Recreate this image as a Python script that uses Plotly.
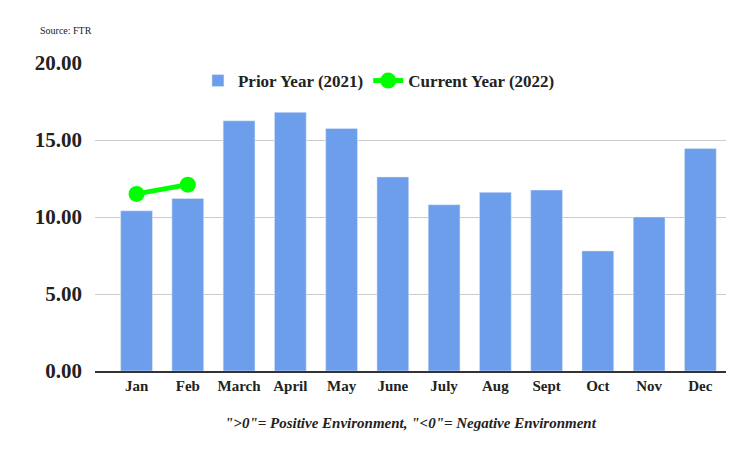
import plotly.graph_objects as go

months = ['Jan', 'Feb', 'March', 'April', 'May', 'June', 'July', 'Aug', 'Sept', 'Oct', 'Nov', 'Dec']
prior_year = [10.4, 11.2, 16.25, 16.8, 15.75, 12.6, 10.8, 11.6, 11.75, 7.8, 10.0, 14.45]
current_months = ['Jan', 'Feb']
current_year = [11.5, 12.1]
y_ticks = [0, 5, 10, 15, 20]

FONT = 'Liberation Serif, Times New Roman, serif'

fig = go.Figure()
fig.add_trace(go.Bar(
    name='<b>Prior Year (2021)</b>', x=months, y=prior_year,
    marker_color='#6d9eeb', width=0.62,
))
fig.add_trace(go.Scatter(
    name='<b>Current Year (2022)</b>', x=current_months, y=current_year,
    mode='lines+markers', line=dict(color='#00ff00', width=5),
    marker=dict(color='#00ff00', size=16),
))

fig.update_layout(
    width=750, height=463,
    margin=dict(l=87, r=32, t=55, b=100),
    plot_bgcolor='white', paper_bgcolor='white',
    font=dict(family=FONT, color='#222', size=15),
    legend=dict(orientation='h', x=0.45, xanchor='center', y=1.0, yanchor='top',
                font=dict(size=17, family=FONT, color='#222'),
                bgcolor='rgba(0,0,0,0)'),
    yaxis=dict(range=[0, 20], tickvals=y_ticks,
               ticktext=['<b>%.2f</b>' % v for v in y_ticks],
               gridcolor='#cccccc', zeroline=False,
               tickfont=dict(size=21, family=FONT, color='#222'),
               ticks='', ticklabelstandoff=12),
    xaxis=dict(tickvals=months, ticktext=['<b>%s</b>' % m for m in months],
               tickfont=dict(size=15, family=FONT, color='#222'),
               showline=True, linecolor='#333', linewidth=1.5, ticks=''),
    annotations=[
        dict(text='Source: FTR', x=-0.09, y=1.13, xanchor='left', xref='paper', yref='paper',
             showarrow=False, font=dict(size=10, family=FONT, color='#222')),
        dict(text='<b><i>"&gt;0"= Positive Environment, "&lt;0"= Negative Environment</i></b>',
             x=0.5, y=-0.2, xref='paper', yref='paper', showarrow=False,
             font=dict(size=15, family=FONT, color='#222')),
    ],
)
fig.write_html('out.html')
